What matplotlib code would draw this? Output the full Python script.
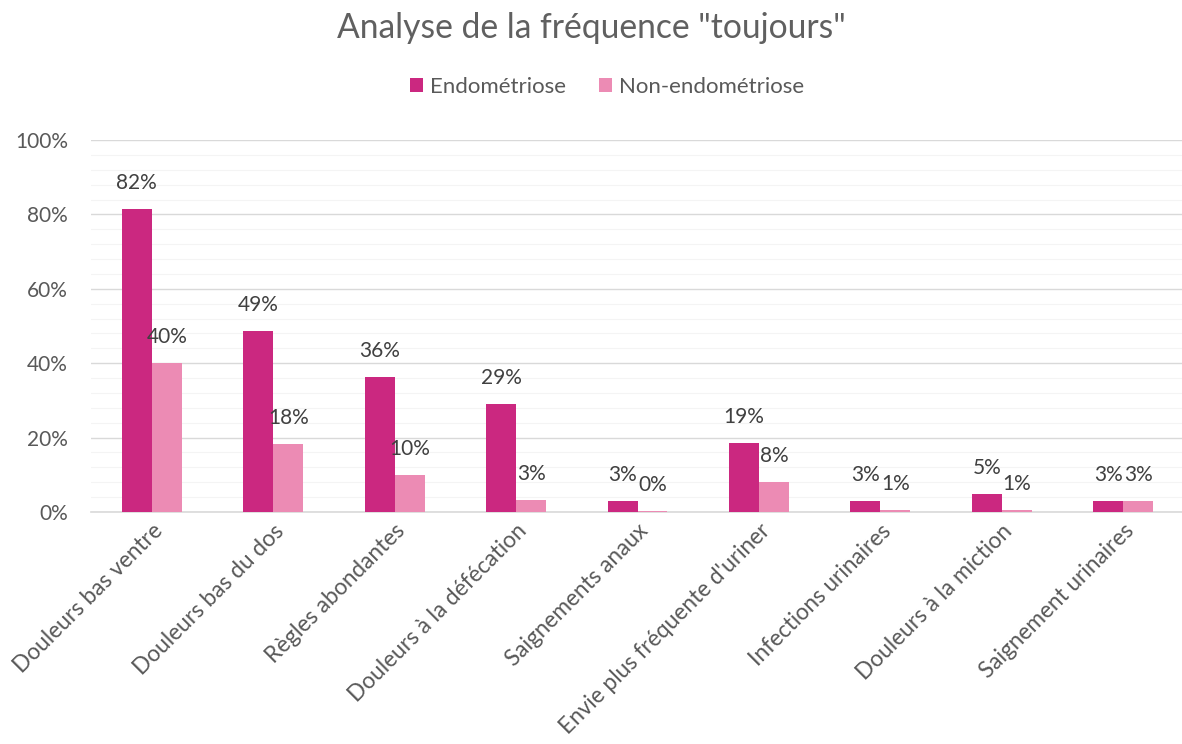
import matplotlib
matplotlib.use("Agg")
import matplotlib.pyplot as plt
import numpy as np
from matplotlib.ticker import MultipleLocator, PercentFormatter

categories = ["Douleurs bas ventre", "Douleurs bas du dos", "Règles abondantes",
              "Douleurs à la défécation", "Saignements anaux",
              "Envie plus fréquente d'uriner", "Infections urinaires",
              "Douleurs à la miction", "Saignement urinaires"]
endo = [81.5, 48.7, 36.3, 29.0, 2.9, 18.6, 2.9, 4.8, 3.0]
non_endo = [40.0, 18.3, 10.0, 3.2, 0.4, 8.1, 0.6, 0.6, 3.0]
endo_labels = ["82%", "49%", "36%", "29%", "3%", "19%", "3%", "5%", "3%"]
non_labels = ["40%", "18%", "10%", "3%", "0%", "8%", "1%", "1%", "3%"]

c_endo = "#CB2880"
c_non = "#EC8BB4"
tc = "#595959"
font = ["Lato", "DejaVu Sans"]
plt.rcParams['font.family'] = font

fig = plt.figure(figsize=(11.82, 7.44), dpi=100)
ax = fig.add_axes([91/1182, 1-512/744, (1184-91)/1182, (512-140)/744])

x = np.arange(len(categories))
w = 0.247
b1 = ax.bar(x - w/2, endo, w, color=c_endo, label="Endométriose", zorder=3)
b2 = ax.bar(x + w/2, non_endo, w, color=c_non, label="Non-endométriose", zorder=3)

for xi, v, t in zip(x - w/2, endo, endo_labels):
    ax.annotate(t, (xi, v), xytext=(0, 26), textcoords="offset pixels",
                ha="center", va="center", fontsize=15, color="#404040")
for xi, v, t in zip(x + w/2, non_endo, non_labels):
    ax.annotate(t, (xi, v), xytext=(0, 26), textcoords="offset pixels",
                ha="center", va="center", fontsize=15, color="#404040")

ax.set_xlim(-0.5, len(categories) - 0.5)
ax.set_ylim(0, 100)
ax.yaxis.set_major_locator(MultipleLocator(20))
ax.yaxis.set_minor_locator(MultipleLocator(4))
ax.yaxis.set_major_formatter(PercentFormatter(decimals=0))
ax.grid(axis="y", which="major", color="#D9D9D9", linewidth=1.0, zorder=0)
ax.grid(axis="y", which="minor", color="#F4F4F4", linewidth=0.8, zorder=0)
for s in ["top", "right", "left"]:
    ax.spines[s].set_visible(False)
ax.spines["bottom"].set_color("#D9D9D9")
ax.spines["bottom"].set_linewidth(1.2)
ax.tick_params(axis="y", which="both", length=0, labelsize=15, labelcolor=tc, pad=16.5)
ax.tick_params(axis="x", length=0, labelsize=16.3, labelcolor=tc, pad=6)
ax.set_xticks(x)
ax.set_xticklabels(categories, rotation=45, ha="right", rotation_mode="anchor")

fig.suptitle('Analyse de la fréquence "toujours"', fontsize=24.2, color="#606060", y=1-28/744,
             va="center", fontweight="normal")
leg = fig.legend(handles=[b1, b2], loc="center", bbox_to_anchor=(607/1182, 1-87/744), ncol=2,
                 frameon=False, fontsize=16, handlelength=0.6, handleheight=0.6,
                 handletextpad=0.3, columnspacing=1.5)
for t in leg.get_texts():
    t.set_color(tc)

fig.savefig("out.png", dpi=100, facecolor="white")
